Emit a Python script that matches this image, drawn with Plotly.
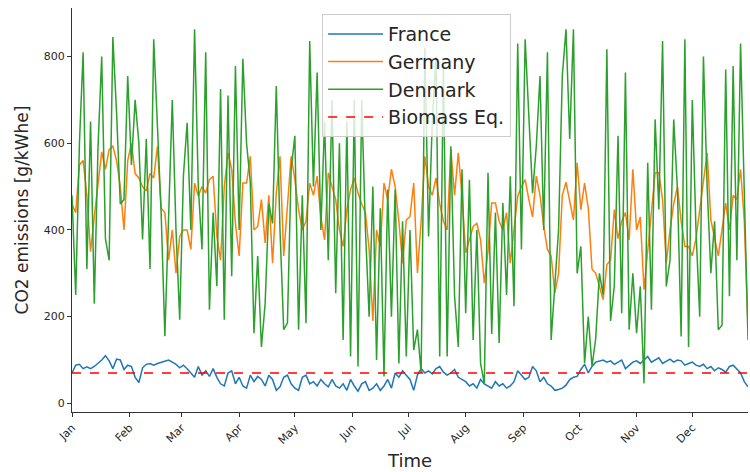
import datetime as dt
import plotly.graph_objects as go

# ---- data (2-day sampling) ----
start = dt.date(2017, 1, 1)
days = list(range(0, 365, 2))
dates = [start + dt.timedelta(days=d) for d in days]

france = [
    70, 88, 90, 80, 84, 80, 85, 92, 100, 110, 98, 80, 102, 100, 78, 88,
    85, 60, 48, 82, 90, 92, 88, 92, 95, 98, 100, 95, 90, 82, 88,
    80, 70, 60, 85, 65, 75, 62, 80, 60, 45, 40, 70, 75, 45, 60,
    40, 35, 65, 50, 62, 55, 40, 65, 55, 30, 38, 60, 65, 45, 35,
    30, 60, 65, 45, 50, 40, 55, 45, 38, 55, 40, 35, 45, 30, 55,
    40, 28, 45, 50, 30, 35, 45, 30, 40, 55, 35, 70, 60, 75, 65,
    55, 30, 65, 80, 70, 75, 68, 80, 85, 72, 65, 70, 78, 60, 55,
    50, 40, 45, 35, 55, 45, 40, 35, 50, 40, 45, 35, 40, 50, 75,
    65, 55, 60, 85, 75, 50, 60, 45, 40, 30, 32, 35, 42, 55, 60,
    62, 78, 90, 70, 85, 95, 98, 100, 95, 98, 90, 95, 100, 80, 88,
    95, 98, 92, 100, 108, 95, 100, 105, 92, 98, 102, 95, 100, 98, 88,
    92, 95, 88, 85, 90, 80, 85, 75, 82, 78, 72, 85, 88, 80, 70, 50, 38,
]

germany = [
    460, 440, 550, 560, 480, 350, 430, 500, 580, 540, 585, 593, 560, 500, 400, 560,
    600, 530, 520, 500, 490, 530, 520, 593, 450, 440, 330, 400, 300, 385, 400,
    400, 355, 508, 478, 500, 485, 516, 524, 385, 330, 500, 578, 540, 415, 340,
    508, 508, 570, 400, 408, 470, 370, 480, 323, 485, 570, 340, 450, 570, 516,
    447, 400, 420, 508, 480, 524, 430, 377, 532, 500, 470, 400, 362, 447, 493,
    520, 485, 460, 440, 355, 190, 400, 362, 508, 470, 540, 500, 420, 323, 423,
    431, 508, 301, 420, 570, 500, 480, 520, 460, 420, 400, 586, 480, 578, 480,
    347, 380, 408, 415, 377, 277, 350, 462, 462, 420, 400, 440, 323, 400, 478,
    500, 516, 470, 430, 524, 480, 408, 355, 340, 254, 300, 480, 510, 470, 423,
    555, 447, 508, 450, 310, 300, 270, 239, 320, 330, 447, 380, 420, 440, 377,
    540, 400, 430, 262, 350, 450, 532, 532, 470, 323, 400, 460, 500, 420, 362,
    362, 340, 380, 450, 516, 578, 423, 380, 340, 400, 462, 400, 480, 470, 540, 420, 175,
]

denmark = [
    480, 250, 600, 810, 310, 650, 230, 590, 800, 380, 330, 845, 670, 460, 470, 755,
    550, 700, 600, 378, 610, 310, 840, 655, 440, 155, 450, 700, 400, 193, 525,
    647, 400, 863, 500, 355, 810, 216, 440, 270, 725, 193, 710, 293, 778, 400,
    795, 600, 510, 162, 340, 130, 230, 460, 415, 732, 400, 170, 185, 540, 617,
    170, 480, 185, 836, 500, 763, 400, 650, 330, 700, 254, 600, 146, 650, 108,
    700, 85, 700, 400, 200, 500, 100, 450, 62, 493, 200, 493, 92, 420, 108,
    400, 123, 170, 70, 820, 385, 650, 800, 108, 780, 108, 593, 247, 130, 540,
    208, 516, 146, 400, 92, 46, 532, 160, 440, 139, 462, 250, 524, 224, 830,
    355, 840, 655, 485, 593, 755, 400, 810, 146, 285, 400, 755, 863, 610, 863,
    300, 362, 92, 200, 85, 150, 300, 250, 817, 190, 270, 617, 208, 763, 170,
    300, 162, 270, 46, 555, 216, 655, 447, 836, 270, 330, 655, 493, 154, 840,
    130, 700, 400, 200, 800, 500, 300, 420, 170, 180, 770, 247, 778, 330, 830, 500, 146,
]

biomass_eq = 70
month_labels = ["Jan", "Feb", "Mar", "Apr", "May", "Jun",
                "Jul", "Aug", "Sep", "Oct", "Nov", "Dec"]
month_ticks = [dt.date(2017, m, 1) for m in range(1, 13)]
y_ticks = [0, 200, 400, 600, 800]

# ---- figure ----
fig = go.Figure()
fig.add_trace(go.Scatter(x=dates, y=france, mode="lines", name="France",
                         line=dict(color="#1f77b4", width=1.5)))
fig.add_trace(go.Scatter(x=dates, y=germany, mode="lines", name="Germany",
                         line=dict(color="#ff7f0e", width=1.5)))
fig.add_trace(go.Scatter(x=dates, y=denmark, mode="lines", name="Denmark",
                         line=dict(color="#2ca02c", width=1.5)))
fig.add_trace(go.Scatter(x=[dates[0], dates[-1]], y=[biomass_eq, biomass_eq],
                         mode="lines", name="Biomass Eq.",
                         line=dict(color="#ff0000", width=1.5, dash="dash")))

fig.update_layout(
    width=750, height=472,
    margin=dict(l=72, r=2, t=8, b=60),
    paper_bgcolor="white", plot_bgcolor="white",
    font=dict(family="DejaVu Sans", color="#262626"),
    showlegend=True,
    legend=dict(x=0.37, y=0.985, xanchor="left", yanchor="top",
                bgcolor="rgba(255,255,255,0.8)", bordercolor="#cccccc",
                borderwidth=1, font=dict(size=19, color="#262626"),
                itemwidth=55, tracegroupgap=4),
)
fig.update_xaxes(
    range=[dates[0], dates[-1]],
    tickvals=month_ticks, ticktext=month_labels, tickangle=-45,
    ticks="outside", ticklen=4, tickcolor="#333333",
    showline=True, linecolor="#333333", linewidth=1, mirror=False,
    showgrid=False, zeroline=False, tickfont=dict(size=11),
    title=dict(text="Time", font=dict(size=18), standoff=8),
)
fig.update_yaxes(
    range=[-20, 912], tickvals=y_ticks,
    ticks="outside", ticklen=4, tickcolor="#333333",
    showline=True, linecolor="#333333", linewidth=1, mirror=False,
    showgrid=False, zeroline=False, tickfont=dict(size=11),
    title=dict(text="CO2 emissions [g/kWhe]", font=dict(size=17), standoff=10),
)

fig.write_html("out.html")
